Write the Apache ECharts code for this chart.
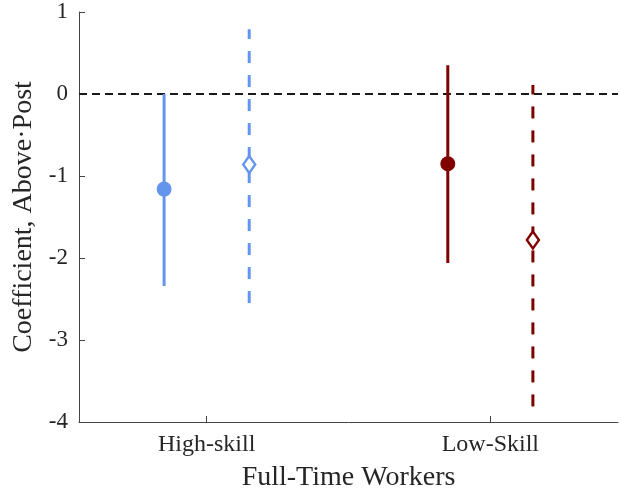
<!DOCTYPE html>
<html>
<head>
<meta charset="utf-8">
<script src="https://cdn.jsdelivr.net/npm/echarts@6/dist/echarts.min.js"></script>
<style>
html,body{margin:0;padding:0;background:#fff;}
#chart{width:621px;height:493px;}
</style>
</head>
<body>
<div id="chart"></div>
<script>
// Categories and their x positions
var categories = ['High-skill', 'Low-Skill'];
var categoryPos = [1, 2];
var offset = 0.15;
// Solid series (filled circle): point estimate, lower and upper bound
var solidEst = [-1.16, -0.85];
var solidLow = [-2.34, -2.06];
var solidHigh = [0.0, 0.35];
// Dashed series (open diamond)
var dashEst = [-0.86, -1.78];
var dashLow = [-2.55, -3.81];
var dashHigh = [0.79, 0.11];
var colors = ['#6495ED', '#800000'];
var yTicks = [-4, -3, -2, -1, 0, 1];

var FONT = 'Liberation Serif';
var series = [];
// zero reference line
series.push({
  type: 'line', data: [[0.55, 0], [2.45, 0]], symbol: 'none', z: 1,
  lineStyle: {color: '#1a1a1a', width: 2, type: [8, 5]}, silent: true
});
for (var i = 0; i < categories.length; i++) {
  var xs = categoryPos[i] - offset, xd = categoryPos[i] + offset;
  series.push({
    type: 'line', data: [[xs, solidLow[i]], [xs, solidHigh[i]]], symbol: 'none', z: 2,
    lineStyle: {color: colors[i], width: 3, type: 'solid'}
  });
  series.push({
    type: 'line', data: [[xd, dashLow[i]], [xd, dashHigh[i]]], symbol: 'none', z: 2,
    lineStyle: {color: colors[i], width: 3, type: [12, 12]}
  });
  series.push({
    type: 'scatter', data: [[xs, solidEst[i]]], symbol: 'circle', symbolSize: 15, z: 3,
    itemStyle: {color: colors[i], opacity: 1}
  });
  series.push({
    type: 'scatter', data: [[xd, dashEst[i]]], symbol: 'diamond', symbolSize: [12, 17], z: 3,
    itemStyle: {color: '#fff', borderColor: colors[i], borderWidth: 2.5, opacity: 1}
  });
}

var chart = echarts.init(document.getElementById('chart'), null, {renderer: 'canvas'});
chart.setOption({
  animation: false,
  backgroundColor: '#fff',
  grid: {left: 79, right: 3, top: 12, bottom: 71, containLabel: false, outerBoundsMode: 'none'},
  xAxis: {
    type: 'value', min: 0.55, max: 2.45,
    splitLine: {show: false},
    axisLine: {show: true, onZero: false, lineStyle: {color: '#444', width: 1}},
    axisTick: {show: true, inside: true, length: 6, customValues: categoryPos, lineStyle: {color: '#444'}},
    axisLabel: {
      customValues: categoryPos, margin: 11,
      fontFamily: FONT, fontSize: 24, color: '#262626',
      formatter: function (v) { var k = categoryPos.indexOf(Math.round(v)); return k >= 0 ? categories[k] : ''; }
    },
    name: 'Full-Time Workers', nameLocation: 'middle', nameGap: 42,
    nameTextStyle: {fontFamily: FONT, fontSize: 28, color: '#262626'}
  },
  yAxis: {
    type: 'value', min: -4, max: 1, interval: 1,
    splitLine: {show: false},
    axisLine: {show: true, onZero: false, lineStyle: {color: '#444', width: 1}},
    axisTick: {show: true, inside: true, length: 6, lineStyle: {color: '#444'}},
    axisLabel: {
      fontFamily: FONT, fontSize: 23, color: '#262626', margin: 11,
      customValues: yTicks,
      formatter: function (v) { return String(v); }
    },
    name: 'Coefficient, Above\u00B7Post', nameLocation: 'middle', nameGap: 40,
    nameTextStyle: {fontFamily: FONT, fontSize: 28, color: '#262626'}
  },
  series: series
});
</script>
</body>
</html>
